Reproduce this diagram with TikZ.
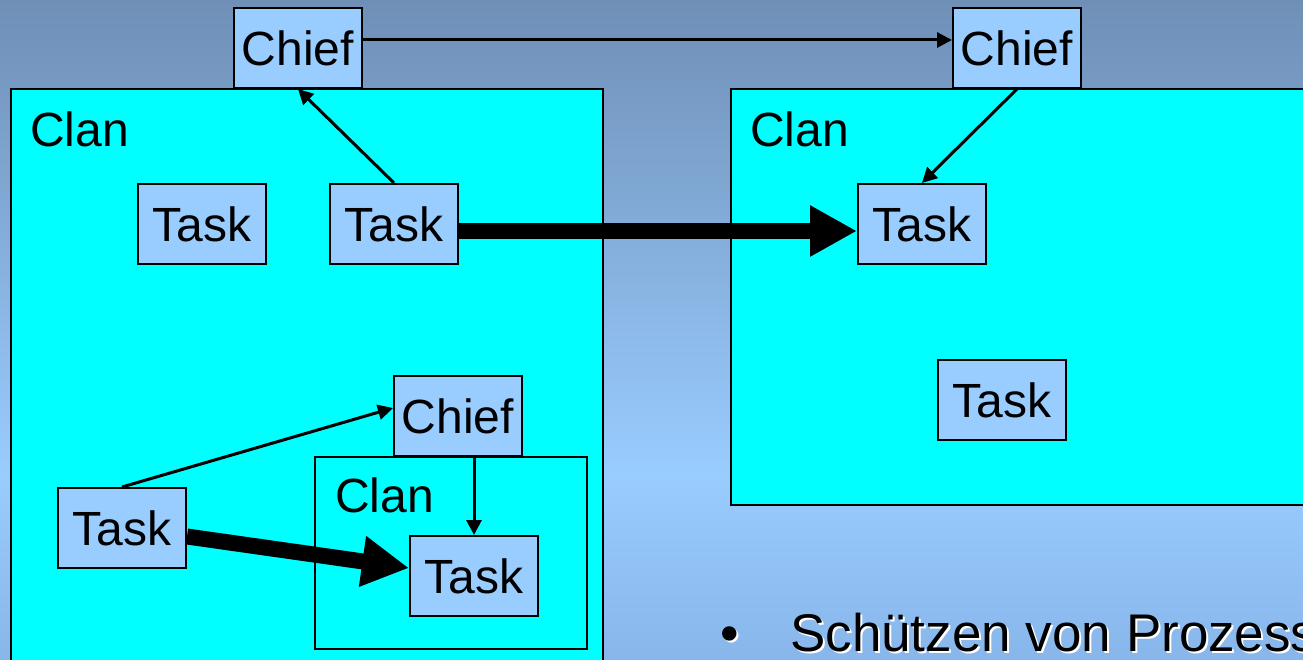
\documentclass[tikz,border=0pt]{standalone}
\usepackage{fontspec}
\setmainfont{Liberation Sans}
\usetikzlibrary{arrows.meta}

\definecolor{bgtop}{RGB}{111,143,182}
\definecolor{bgmid}{RGB}{153,204,255}
\definecolor{bgbot}{RGB}{136,182,234}
\definecolor{taskfill}{RGB}{153,204,255}
\definecolor{clanfill}{RGB}{0,255,255}

% slide background: darker at the top, lightest a little below the middle
\pgfdeclareverticalshading{slidebg}{100bp}{color(0bp)=(bgbot); color(25bp)=(bgbot); color(39bp)=(bgmid); color(75bp)=(bgtop); color(100bp)=(bgtop)}

% text with a small white drop shadow
\newcommand\shadowed[1]{\makebox[0pt][l]{\hspace{2pt}\raisebox{-2pt}{\color{white}#1}}#1}

\begin{document}
\begin{tikzpicture}[x=1pt,y=-1pt,
  boxfont/.style={font=\fontsize{48}{57}\selectfont},
  taskbox/.style={draw=black, fill=taskfill, line width=2pt, minimum width=128pt,
    minimum height=80pt, inner sep=0pt, boxfont},
  clanbox/.style={draw=black, fill=clanfill, line width=2pt, inner sep=0pt, anchor=north west},
  clanlabel/.style={anchor=base west, inner sep=0pt, boxfont},
  linkarrow/.style={line width=3pt, -{Triangle[length=15pt,width=15pt]}},
  flowarrow/.style={line width=16pt, -{Triangle[length=47pt,width=48pt]}},
  bodytext/.style={anchor=base west, inner sep=0pt, font=\fontsize{53}{63}\selectfont}]

\useasboundingbox (0,0) rectangle (1303,660);
\clip (0,0) rectangle (1303,660);
\shade[shading=slidebg] (0,0) rectangle (1303,660);

% clans
\node[clanbox, minimum width=592pt, minimum height=600pt] (clanL) at (10,88) {};
\node[clanbox, minimum width=620pt, minimum height=416pt] (clanR) at (730,88) {};
\node[clanbox, minimum width=272pt, minimum height=192pt] (clanI) at (314,456) {};
\node[clanlabel] (clanLlbl) at (30,147) {Clan};
\node[clanlabel] (clanRlbl) at (750,147) {Clan};
\node[clanlabel] (clanIlbl) at (335,512) {Clan};

% chiefs and tasks
\node[taskbox] (chiefL) at (298,48) {Chief};
\node[taskbox] (chiefR) at (1017,48) {Chief};
\node[taskbox] (chiefI) at (458,416) {Chief};
\node[taskbox] (taskA) at (202,224) {Task};
\node[taskbox] (taskB) at (394,224) {Task};
\node[taskbox] (taskC) at (922,224) {Task};
\node[taskbox] (taskD) at (1002,400) {Task};
\node[taskbox] (taskE) at (122,528) {Task};
\node[taskbox] (taskF) at (474,576) {Task};

% control connections
\draw[linkarrow] ([yshift=8pt]chiefL.east) -- ([yshift=8pt]chiefR.west);
\draw[linkarrow] (taskB.north) -- (chiefL.south);
\draw[linkarrow] (chiefR.south) -- (taskC.north);
\draw[linkarrow] (taskE.north) -- ([yshift=8pt]chiefI.west);
\draw[linkarrow] (taskF.north |- chiefI.south) -- (taskF.north);

% task migration
\draw[flowarrow] ([yshift=-7pt]taskB.east) -- ([yshift=-7pt]taskC.west);
\draw[flowarrow] ([yshift=-8.5pt]taskE.east) -- ([yshift=8pt]taskF.west);

% bullet text
\node[bodytext] (bullet) at (720,651) {\shadowed{•}};
\node[bodytext] (point) at (790,651) {\shadowed{Schützen von Prozess}};
\end{tikzpicture}
\end{document}
